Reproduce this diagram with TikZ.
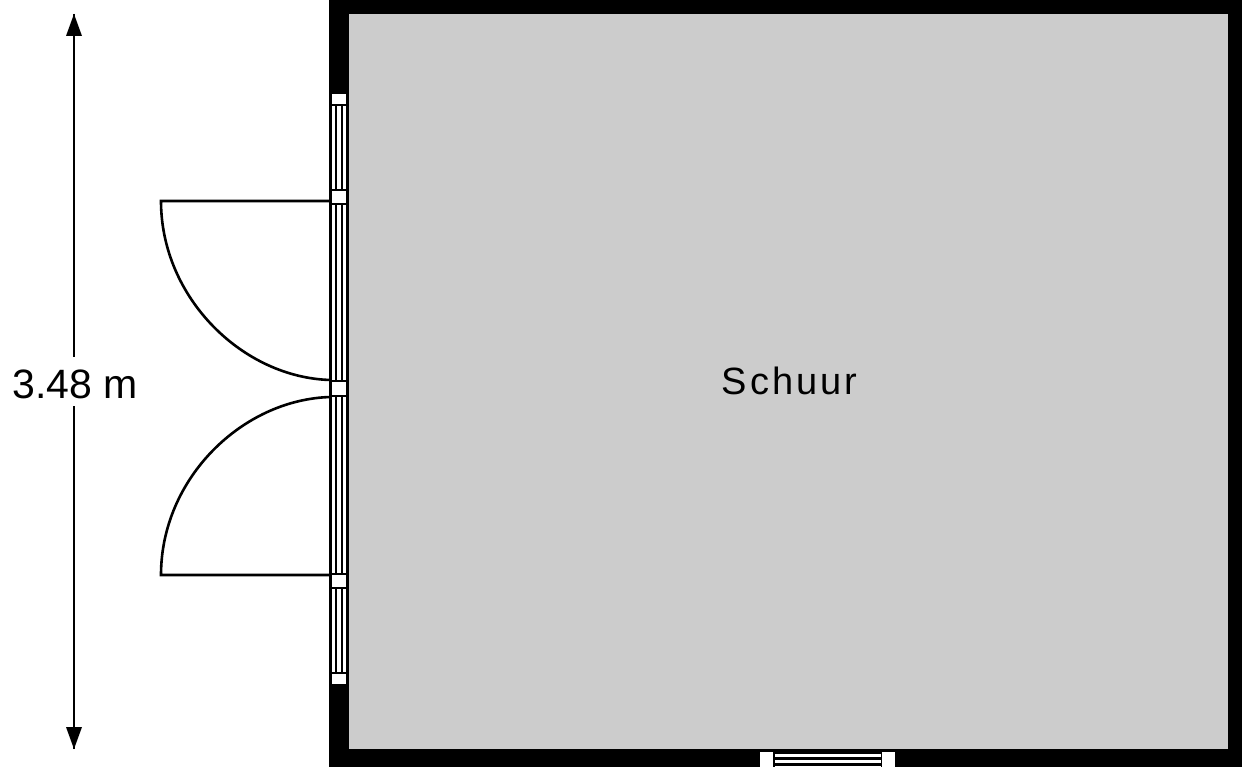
\documentclass[tikz,border=0pt]{standalone}
\usepackage{fontspec}
\setmainfont{Liberation Sans}
\definecolor{floorgrey}{gray}{0.8}
\tikzset{
  wallfill/.style={fill=black,draw=none},
  floorfill/.style={fill=floorgrey,draw=none},
  pier/.style={fill=white,draw=none},
  pane/.style={draw=black,line width=2.7pt},
  doorleaf/.style={draw=black,line width=2.6pt},
  dimline/.style={draw=black,line width=2.4pt},
  dimtip/.style={fill=black,draw=none}
}
\begin{document}
\begin{tikzpicture}[x=1pt,y=-1pt]
\useasboundingbox (0,0) rectangle (1242,767);
\fill[white] (0,0) rectangle (1242,767);
% walls and floor
\path[wallfill] (329,0) rectangle (1242,767);
\path[floorfill] (349,14) rectangle (1228,749);
% left window/door strip
\path[pier] (329,93) rectangle (349,685);
\fill[floorgrey] (348.5,93) rectangle (349,685);
\foreach \xx in {330.5,336,342,347.5}{\draw[pane] (\xx,105) -- (\xx,673);}
\foreach \ya/\yb in {93/105,190/204,381/396,574/588,673/685}{
  \path[pier] (331.5,\ya) rectangle (346.5,\yb);
  \draw[black,line width=2.2pt] (330,\ya) -- (348,\ya) (330,\yb) -- (348,\yb);
}
\draw[pane] (330.5,93) -- (330.5,685) (347.5,93) -- (347.5,685);
% bottom window
\path[pier] (760,752) rectangle (773,767);
\path[pier] (882,752) rectangle (895,767);
\path[pier] (775,752) rectangle (881,767);
\foreach \yy in {752.5,758,764}{\draw[black,line width=3pt] (775,\yy) -- (881,\yy);}
% doors
\coordinate (hingeA) at (330,201);
\coordinate (tipA) at (161,201);
\coordinate (meetA) at (331,380);
\coordinate (hingeB) at (330,575);
\coordinate (tipB) at (161,575);
\coordinate (meetB) at (331,397);
\draw[doorleaf] (hingeA) -- (tipA) .. controls (161,298) and (243,378) .. (meetA);
\draw[doorleaf] (hingeB) -- (tipB) .. controls (161,478) and (243,399) .. (meetB);
% dimension
\coordinate (dimTop) at (74,14);
\coordinate (dimBot) at (74,749);
\node[font=\fontsize{41}{41}\selectfont,inner sep=0pt,anchor=base] (dimlabel) at (75,398) {3.48 m};
\coordinate (gapTop) at (74,357);
\coordinate (gapBot) at (74,406);
\draw[dimline] (dimTop) -- (gapTop) (gapBot) -- (dimBot);
\path[dimtip] (74,14) -- (82,36) -- (66,36) -- cycle;
\path[dimtip] (74,749) -- (82,727) -- (66,727) -- cycle;
% label
\node[font=\fontsize{38}{38}\selectfont\addfontfeature{LetterSpace=8},inner sep=0pt,anchor=base] (room) at (789.5,394) {Schuur};
\end{tikzpicture}
\end{document}
